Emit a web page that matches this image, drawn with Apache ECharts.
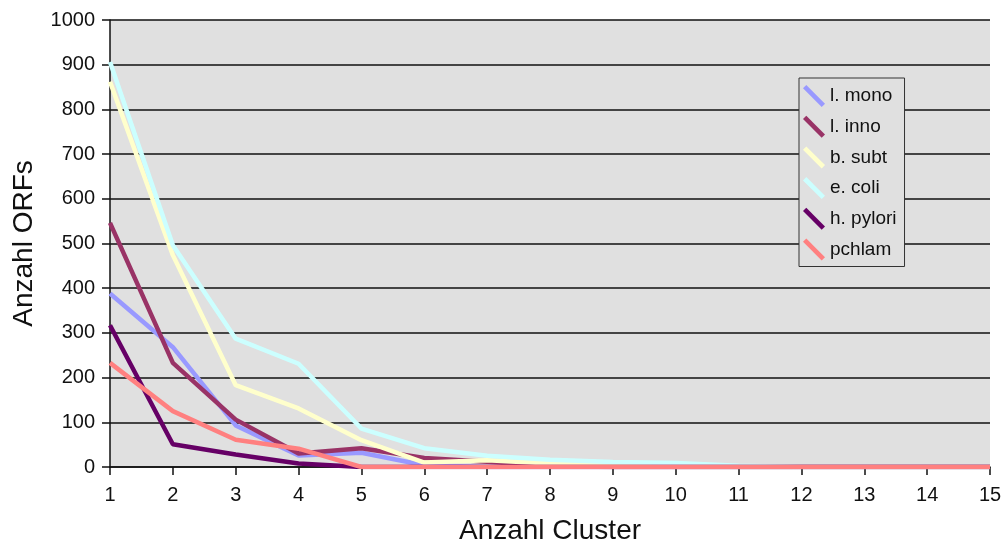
<!DOCTYPE html>
<html>
<head>
<meta charset="utf-8">
<script src="https://cdn.jsdelivr.net/npm/echarts@6/dist/echarts.min.js"></script>
<style>html,body{margin:0;padding:0;background:#fff;}#c{width:1006px;height:542px;}</style>
</head>
<body>
<div id="c"></div>
<script>
const categories = ['1','2','3','4','5','6','7','8','9','10','11','12','13','14','15'];
const lMono   = [388, 268,  93,  26, 32,  4,  0,  0,  0, 0, 0, 0, 0, 0, 0];
const lInno   = [546, 233, 106,  30, 42, 20, 12,  2,  0, 0, 0, 0, 0, 0, 0];
const bSubt   = [862, 474, 183, 131, 60, 10, 15,  8,  4, 0, 0, 0, 0, 0, 0];
const eColi   = [906, 496, 287, 231, 86, 42, 25, 16, 11, 9, 3, 0, 0, 0, 0];
const hPylori = [317,  51,  28,   8,  0,  0,  0,  0,  0, 0, 0, 0, 0, 0, 0];
const pchlam  = [233, 125,  61,  41,  0,  0,  0,  0,  0, 0, 0, 0, 0, 0, 0];
const seriesNames = ['l. mono','l. inno','b. subt','e. coli','h. pylori','pchlam'];
const seriesData = [lMono, lInno, bSubt, eColi, hPylori, pchlam];
const colors = ['#9999ff','#993366','#ffffcc','#ccffff','#660066','#ff8080'];

const font = 'Liberation Sans';
const chart = echarts.init(document.getElementById('c'), null, {renderer:'canvas'});
chart.setOption({
  animation: false,
  color: colors,
  textStyle: {fontFamily: font},
  grid: {left:110, right:16, top:20, bottom:75, show:true, backgroundColor:'#e0e0e0', borderWidth:0, containLabel:false, outerBoundsMode:'none'},
  legend: {
    orient:'vertical', left:799, top:78,
    padding:[7,8,6,4], itemGap:8.7, itemWidth:22, itemHeight:22,
    backgroundColor:'#e0e0e0', borderColor:'#333', borderWidth:1,
    icon:'path://M0,3L3,0L20,17L17,20Z',
    textStyle:{fontFamily:font, fontSize:19, color:'#111'},
    data: seriesNames
  },
  xAxis: {
    type:'category', data:categories, boundaryGap:false,
    name:'Anzahl Cluster', nameLocation:'middle', nameGap:50,
    nameTextStyle:{fontFamily:font, fontSize:28, color:'#111'},
    axisLine:{show:true, lineStyle:{color:'#111', width:1.5}},
    axisTick:{show:true, inside:false, length:8, lineStyle:{color:'#111', width:1.5}},
    axisLabel:{fontFamily:font, fontSize:20, color:'#111', margin:18},
    splitLine:{show:false}
  },
  yAxis: {
    type:'value', min:0, max:1000, interval:100,
    name:'Anzahl ORFs', nameLocation:'middle', nameGap:72, nameRotate:90,
    nameTextStyle:{fontFamily:font, fontSize:28, color:'#111'},
    axisLine:{show:true, lineStyle:{color:'#111', width:1.5}},
    axisTick:{show:true, inside:false, length:8, lineStyle:{color:'#111', width:1.5}},
    axisLabel:{fontFamily:font, fontSize:20, color:'#111', margin:15, formatter:(v)=>String(v)},
    splitLine:{show:true, lineStyle:{color:'#111', width:1.5}}
  },
  series: seriesNames.map((n,i)=>({
    name:n, type:'line', data:seriesData[i], symbol:'none', showSymbol:false,
    lineStyle:{width:4.5, color:colors[i]}, itemStyle:{color:colors[i]}
  }))
});
</script>
</body>
</html>
